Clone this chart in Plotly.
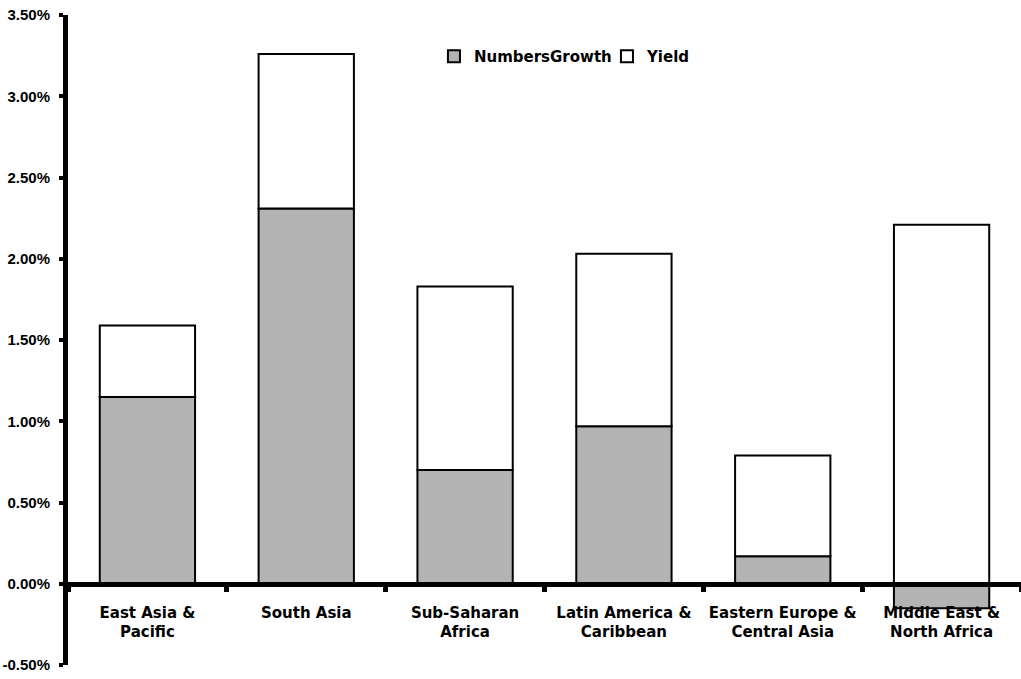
import plotly.graph_objects as go

regions = [
    "East Asia &<br>Pacific",
    "South Asia",
    "Sub-Saharan<br>Africa",
    "Latin America &<br>Caribbean",
    "Eastern Europe &<br>Central Asia",
    "Middle East &<br>North Africa",
]
numbers_growth = [1.15, 2.31, 0.70, 0.97, 0.17, -0.15]
yield_growth = [0.44, 0.95, 1.13, 1.06, 0.62, 2.21]

y_ticks = [-0.5, 0.0, 0.5, 1.0, 1.5, 2.0, 2.5, 3.0, 3.5]
y_tick_text = ["-0.50%", "0.00%", "0.50%", "1.00%", "1.50%", "2.00%", "2.50%", "3.00%", "3.50%"]

wide_font = "DejaVu Sans, Verdana, sans-serif"
num_font = "Liberation Sans, Arial, sans-serif"

fig = go.Figure()
fig.add_trace(go.Bar(
    x=regions, y=numbers_growth, name="NumbersGrowth",
    marker=dict(color="#b3b3b3", line=dict(color="black", width=2)),
))
fig.add_trace(go.Bar(
    x=regions, y=yield_growth, name="Yield",
    marker=dict(color="white", line=dict(color="black", width=2)),
))

y_min, y_max = -0.5, 3.5
zero_pos = (0 - y_min) / (y_max - y_min)

fig.update_layout(
    width=1021, height=679,
    margin=dict(l=68, r=0, t=15, b=14, autoexpand=False),
    barmode="relative",
    bargap=0.4,
    plot_bgcolor="white",
    paper_bgcolor="white",
    font=dict(family=wide_font, size=15, color="black"),
    showlegend=True,
    legend=dict(
        orientation="h", x=0.384, y=0.936, xanchor="left", yanchor="middle",
        font=dict(family=wide_font, size=15, color="black", weight="bold"),
        bgcolor="rgba(0,0,0,0)", itemwidth=30, traceorder="normal",
        entrywidth=128, entrywidthmode="pixels",
    ),
    xaxis=dict(
        type="category",
        anchor="free", position=zero_pos,
        range=[-0.5, 5.5],
        automargin=False, tickangle=0,
        showline=True, linecolor="black", linewidth=5,
        ticks="outside", tickson="boundaries", ticklen=5, tickwidth=5, tickcolor="black",
        ticklabelstandoff=13,
        showgrid=False, zeroline=False,
        tickfont=dict(family=wide_font, size=15, color="black", weight="bold"),
    ),
    yaxis=dict(
        range=[y_min, y_max],
        automargin=False,
        tickvals=y_ticks, ticktext=y_tick_text,
        showline=True, linecolor="black", linewidth=5,
        ticks="outside", ticklen=4, tickwidth=4, tickcolor="black",
        ticklabelstandoff=6,
        showgrid=False, zeroline=False,
        tickfont=dict(family=num_font, size=15, color="black", weight="bold"),
    ),
)

fig.write_html("out.html")
